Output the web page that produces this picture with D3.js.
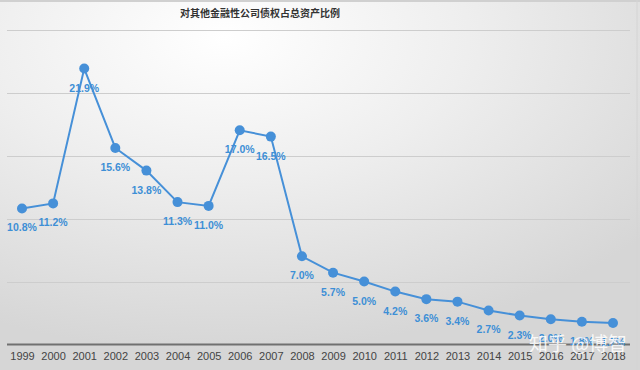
<!DOCTYPE html>
<html><head><meta charset="utf-8">
<script src="https://cdn.jsdelivr.net/npm/d3@7/dist/d3.min.js"></script>
<style>body{margin:0;}svg{display:block;}</style>
</head><body>
<svg id="c" width="640" height="370"></svg>
<script>
const years = ["1999","2000","2001","2002","2003","2004","2005","2006","2007","2008","2009","2010","2011","2012","2013","2014","2015","2016","2017","2018"];
const values = [10.8,11.2,21.9,15.6,13.8,11.3,11.0,17.0,16.5,7.0,5.7,5.0,4.2,3.6,3.4,2.7,2.3,2.0,1.8,1.7];
const yTicks = [0,5,10,15,20,25];
const title = "对其他金融性公司债权占总资产比例";

const svg = d3.select("#c");
const defs = svg.append("defs");
const g = defs.append("radialGradient").attr("id","bg").attr("cx","0.35").attr("cy","0.1").attr("r","0.85");
g.append("stop").attr("offset","0").attr("stop-color","#ffffff");
g.append("stop").attr("offset","0.45").attr("stop-color","#eeeeee");
g.append("stop").attr("offset","1").attr("stop-color","#d6d6d6");
svg.append("rect").attr("width",640).attr("height",370).attr("fill","url(#bg)");
svg.append("line").attr("x1",0).attr("x2",640).attr("y1",1).attr("y2",1).attr("stroke","#d0d0d0").attr("stroke-width",2);
svg.append("line").attr("x1",637).attr("x2",637).attr("y1",0).attr("y2",370).attr("stroke","#d4d4d4").attr("stroke-width",1);

const x = d3.scalePoint().domain(years).range([22,613]);
const y = d3.scaleLinear().domain([0,25]).range([344.5,29.5]);

// gridlines
svg.append("g").selectAll("line").data(yTicks.filter(t=>t>0)).join("line")
  .attr("x1",7).attr("x2",630).attr("y1",d=>Math.round(y(d))+0.5).attr("y2",d=>Math.round(y(d))+0.5)
  .attr("stroke","#cdcdcd").attr("stroke-width",1);

// x axis
const xa = svg.append("g").attr("transform","translate(0,344.5)")
  .call(d3.axisBottom(x).tickSize(0).tickPadding(8));
xa.select(".domain").remove();
xa.append("line").attr("x1",7).attr("x2",630).attr("y1",0).attr("y2",0).attr("stroke","#707070").attr("stroke-width",2);
xa.selectAll("text").attr("font-family","'Liberation Sans', Arial, sans-serif").attr("font-size",11).attr("fill","#444");

// title
svg.append("text").attr("x",260).attr("y",17).attr("text-anchor","middle")
  .attr("font-family","'Noto Sans CJK SC', sans-serif").attr("font-weight","bold").attr("font-size",10).attr("fill","#333").text(title);

const color = "#4690d8";
const line = d3.line().x((d,i)=>x(years[i])).y(d=>y(d));
svg.append("path").datum(values).attr("d",line).attr("fill","none").attr("stroke",color).attr("stroke-width",2);
svg.append("g").selectAll("circle").data(values).join("circle")
  .attr("cx",(d,i)=>x(years[i])).attr("cy",d=>y(d)).attr("r",5).attr("fill",color);
svg.append("g").selectAll("text").data(values).join("text")
  .attr("x",(d,i)=>x(years[i])).attr("y",d=>y(d)+23).attr("text-anchor","middle")
  .attr("font-family","'Liberation Sans', Arial, sans-serif").attr("font-weight","bold").attr("font-size",10.5)
  .attr("fill","#3d8fd6").text(d=>d.toFixed(1)+"%");

// watermark
svg.append("text").attr("x",578).attr("y",351).attr("text-anchor","middle")
  .attr("font-family","'Noto Sans CJK SC', sans-serif").attr("font-size",19).attr("fill","#ffffff").attr("fill-opacity",0.85)
  .text("知乎 @博智");
</script>
</body></html>
